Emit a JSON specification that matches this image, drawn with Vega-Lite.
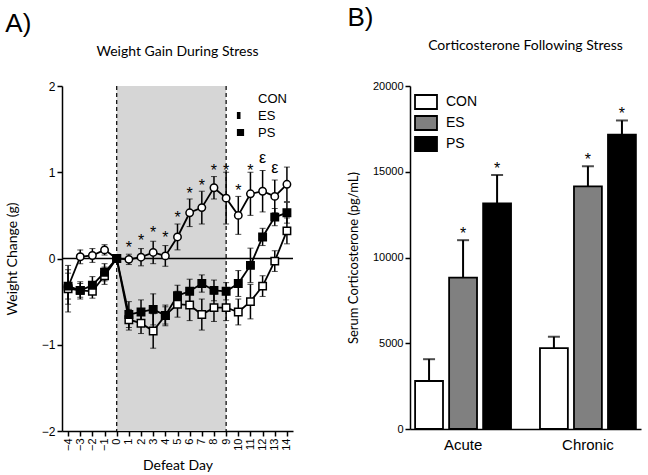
{
  "$schema": "https://vega.github.io/schema/vega-lite/v6.json",
  "background": "white",
  "padding": {"left": 5, "top": 5, "right": 5, "bottom": 5},
  "spacing": 53,
  "resolve": {"scale": {"fill": "independent", "shape": "independent"}, "legend": {"fill": "independent", "shape": "independent"}},
  "datasets": {
    "weight": [
      {"day": -4, "group": "CON", "mean": -0.33, "sem": 0.2},
      {"day": -3, "group": "CON", "mean": 0.02, "sem": 0.08},
      {"day": -2, "group": "CON", "mean": 0.035, "sem": 0.08},
      {"day": -1, "group": "CON", "mean": 0.1, "sem": 0.06},
      {"day": 0, "group": "CON", "mean": 0, "sem": 0},
      {"day": 1, "group": "CON", "mean": -0.01, "sem": 0.06},
      {"day": 2, "group": "CON", "mean": 0.015, "sem": 0.1},
      {"day": 3, "group": "CON", "mean": 0.07, "sem": 0.13},
      {"day": 4, "group": "CON", "mean": 0.03, "sem": 0.12},
      {"day": 5, "group": "CON", "mean": 0.25, "sem": 0.15},
      {"day": 6, "group": "CON", "mean": 0.53, "sem": 0.16},
      {"day": 7, "group": "CON", "mean": 0.59, "sem": 0.19},
      {"day": 8, "group": "CON", "mean": 0.82, "sem": 0.13},
      {"day": 9, "group": "CON", "mean": 0.7, "sem": 0.3},
      {"day": 10, "group": "CON", "mean": 0.5, "sem": 0.22},
      {"day": 11, "group": "CON", "mean": 0.75, "sem": 0.25},
      {"day": 12, "group": "CON", "mean": 0.78, "sem": 0.24},
      {"day": 13, "group": "CON", "mean": 0.72, "sem": 0.19},
      {"day": 14, "group": "CON", "mean": 0.86, "sem": 0.2},
      {"day": -4, "group": "ES", "mean": -0.35, "sem": 0.27},
      {"day": -3, "group": "ES", "mean": -0.37, "sem": 0.1},
      {"day": -2, "group": "ES", "mean": -0.38, "sem": 0.08},
      {"day": -1, "group": "ES", "mean": -0.2, "sem": 0.1},
      {"day": 0, "group": "ES", "mean": 0, "sem": 0},
      {"day": 1, "group": "ES", "mean": -0.71, "sem": 0.12},
      {"day": 2, "group": "ES", "mean": -0.75, "sem": 0.12},
      {"day": 3, "group": "ES", "mean": -0.84, "sem": 0.2},
      {"day": 4, "group": "ES", "mean": -0.66, "sem": 0.12},
      {"day": 5, "group": "ES", "mean": -0.53, "sem": 0.15},
      {"day": 6, "group": "ES", "mean": -0.54, "sem": 0.18},
      {"day": 7, "group": "ES", "mean": -0.65, "sem": 0.18},
      {"day": 8, "group": "ES", "mean": -0.57, "sem": 0.16},
      {"day": 9, "group": "ES", "mean": -0.57, "sem": 0.15},
      {"day": 10, "group": "ES", "mean": -0.62, "sem": 0.15},
      {"day": 11, "group": "ES", "mean": -0.5, "sem": 0.2},
      {"day": 12, "group": "ES", "mean": -0.32, "sem": 0.12},
      {"day": 13, "group": "ES", "mean": -0.03, "sem": 0.12},
      {"day": 14, "group": "ES", "mean": 0.32, "sem": 0.15},
      {"day": -4, "group": "PS", "mean": -0.32, "sem": 0.15},
      {"day": -3, "group": "PS", "mean": -0.37, "sem": 0.08},
      {"day": -2, "group": "PS", "mean": -0.31, "sem": 0.1},
      {"day": -1, "group": "PS", "mean": -0.16, "sem": 0.1},
      {"day": 0, "group": "PS", "mean": 0, "sem": 0},
      {"day": 1, "group": "PS", "mean": -0.65, "sem": 0.15},
      {"day": 2, "group": "PS", "mean": -0.62, "sem": 0.14},
      {"day": 3, "group": "PS", "mean": -0.59, "sem": 0.18},
      {"day": 4, "group": "PS", "mean": -0.66, "sem": 0.1},
      {"day": 5, "group": "PS", "mean": -0.43, "sem": 0.12},
      {"day": 6, "group": "PS", "mean": -0.38, "sem": 0.14},
      {"day": 7, "group": "PS", "mean": -0.29, "sem": 0.1},
      {"day": 8, "group": "PS", "mean": -0.37, "sem": 0.12},
      {"day": 9, "group": "PS", "mean": -0.38, "sem": 0.1},
      {"day": 10, "group": "PS", "mean": -0.29, "sem": 0.15},
      {"day": 11, "group": "PS", "mean": -0.08, "sem": 0.2},
      {"day": 12, "group": "PS", "mean": 0.25, "sem": 0.1},
      {"day": 13, "group": "PS", "mean": 0.48, "sem": 0.1},
      {"day": 14, "group": "PS", "mean": 0.53, "sem": 0.12}
    ],
    "marks": [
      {"day": 1, "y": 0.16, "label": "*"},
      {"day": 2, "y": 0.24, "label": "*"},
      {"day": 3, "y": 0.33, "label": "*"},
      {"day": 4, "y": 0.27, "label": "*"},
      {"day": 5, "y": 0.5, "label": "*"},
      {"day": 6, "y": 0.78, "label": "*"},
      {"day": 7, "y": 0.87, "label": "*"},
      {"day": 8, "y": 1.05, "label": "*"},
      {"day": 9, "y": 1.05, "label": "*"},
      {"day": 10, "y": 0.82, "label": "*"},
      {"day": 11, "y": 1.05, "label": "*"},
      {"day": 12, "y": 1.2, "label": "ε"},
      {"day": 13, "y": 1.08, "label": "ε"}
    ],
    "cort": [
      {"period": "Acute", "group": "CON", "mean": 2800, "top": 4070, "star": ""},
      {"period": "Acute", "group": "ES", "mean": 8830, "top": 11010, "star": "*"},
      {"period": "Acute", "group": "PS", "mean": 13160, "top": 14810, "star": "*"},
      {"period": "Chronic", "group": "CON", "mean": 4710, "top": 5380, "star": ""},
      {"period": "Chronic", "group": "ES", "mean": 14150, "top": 15320, "star": "*"},
      {"period": "Chronic", "group": "PS", "mean": 17170, "top": 17990, "star": "*"}
    ]
  },
  "hconcat": [
    {
      "title": {"text": "A)", "anchor": "start", "fontSize": 26, "fontWeight": "normal", "font": "Liberation Sans", "offset": 8},
      "vconcat": [
        {
          "width": 231,
          "height": 345,
          "title": {"text": "Weight Gain During Stress", "fontSize": 14, "fontWeight": "normal", "font": "Lato", "offset": 21},
          "layer": [
            {
              "data": {"values": [{"x0": 0, "x1": 9, "y0": -2, "y1": 2}]},
              "mark": {"type": "rect", "color": "#d6d6d6"},
              "encoding": {
                "x": {"field": "x0", "type": "quantitative"},
                "x2": {"field": "x1"},
                "y": {"field": "y0", "type": "quantitative"},
                "y2": {"field": "y1"}
              }
            },
            {
              "data": {"values": [{"x": 0}, {"x": 9}]},
              "mark": {"type": "rule", "color": "black", "strokeDash": [4, 3], "strokeWidth": 1.2},
              "encoding": {"x": {"field": "x", "type": "quantitative"}}
            },
            {
              "data": {"values": [{"y": 0}]},
              "mark": {"type": "rule", "color": "black", "strokeWidth": 1.5},
              "encoding": {"y": {"field": "y", "type": "quantitative"}}
            },
            {
              "data": {"name": "weight"},
              "mark": {"type": "errorbar", "ticks": {"size": 6, "color": "black", "strokeWidth": 1.5}, "rule": {"color": "black", "strokeWidth": 1.5}},
              "encoding": {
                "x": {"field": "day", "type": "quantitative"},
                "y": {"field": "mean", "type": "quantitative"},
                "yError": {"field": "sem"},
                "detail": {"field": "group"}
              }
            },
            {
              "data": {"name": "weight"},
              "mark": {"type": "line", "color": "black", "strokeWidth": 1.8},
              "encoding": {
                "x": {"field": "day", "type": "quantitative"},
                "y": {"field": "mean", "type": "quantitative"},
                "detail": {"field": "group"}
              }
            },
            {
              "data": {"name": "weight"},
              "mark": {"type": "point", "filled": false, "stroke": "black", "strokeWidth": 1.5, "opacity": 1, "size": 55},
              "encoding": {
                "x": {"field": "day", "type": "quantitative"},
                "y": {"field": "mean", "type": "quantitative"},
                "shape": {"field": "group", "type": "nominal", "scale": {"domain": ["CON", "ES", "PS"], "range": ["circle", "square", "square"]}, "legend": null},
                "fill": {"field": "group", "type": "nominal", "scale": {"domain": ["CON", "ES", "PS"], "range": ["white", "white", "black"]}, "legend": null}
              }
            },
            {
              "data": {"values": [{"day": -12, "mean": 0, "key": "CON"}, {"day": -12, "mean": 0, "key": "ES"}, {"day": -12, "mean": 0, "key": "PS"}]},
              "mark": {"type": "point", "filled": false, "stroke": "black", "strokeWidth": 1.5, "opacity": 1, "size": 64, "clip": true},
              "encoding": {
                "x": {"field": "day", "type": "quantitative"},
                "y": {"field": "mean", "type": "quantitative"},
                "shape": {"field": "key", "type": "nominal", "scale": {"domain": ["CON", "ES", "PS"], "range": [
                  "M-2.1,0H-1M1,0H2.1M-1,0A1,1 0 1,0 1,0A1,1 0 1,0 -1,0Z",
                  "M-2.1,0H-0.9M0.9,0H2.1M-0.9,-0.9H0V0.9H-0.9ZM0,-0.9H0.9V0.9H0H0.9V-0.9H0",
                  "M-2.1,0H-0.9M0.9,0H2.1M-0.9,-0.9H0.9V0.9H-0.9Z"
                ]}, "legend": {
                  "title": null, "orient": "top-right", "offset": 2, "labelFontSize": 13, "labelFont": "Liberation Sans", "symbolSize": 64, "symbolStrokeColor": "black", "symbolStrokeWidth": 1.5, "labelOffset": 11, "rowPadding": 2, "padding": 4,
                  "encode": {"symbols": {"update": {"stroke": {"value": "black"}, "strokeWidth": {"value": 1.5}, "strokeOpacity": {"value": 1}}}}
                }},
                "fill": {"field": "key", "type": "nominal", "scale": {"domain": ["CON", "ES", "PS"], "range": ["white", "black", "black"]}, "legend": null}
              }
            },
            {
              "data": {"name": "marks"},
              "mark": {"type": "text", "fontSize": 16, "font": "Liberation Sans", "baseline": "middle", "dy": 3},
              "encoding": {
                "x": {"field": "day", "type": "quantitative"},
                "y": {"field": "y", "type": "quantitative"},
                "text": {"field": "label"}
              }
            }
          ],
          "encoding": {
            "x": {"scale": {"domain": [-4.5, 14.5], "nice": false, "zero": false}, "axis": {"title": "Defeat Day", "values": [-4, -3, -2, -1, 0, 1, 2, 3, 4, 5, 6, 7, 8, 9, 10, 11, 12, 13, 14], "labelAngle": -90, "labelFontSize": 11, "titleFontSize": 14, "titleFont": "Lato", "titleFontWeight": "normal", "titlePadding": 8}},
            "y": {"scale": {"domain": [-2, 2], "nice": false}, "axis": {"title": "Weight Change (g)", "values": [-2, -1, 0, 1, 2], "labelFontSize": 12, "titleFontSize": 14, "titleFont": "Lato", "titleFontWeight": "normal", "titlePadding": 22}}
          },
          "resolve": {"scale": {"fill": "independent", "shape": "independent"}}
        }
      ]
    },
    {
      "title": {"text": "B)", "anchor": "start", "fontSize": 26, "fontWeight": "normal", "font": "Liberation Sans", "offset": 8},
      "vconcat": [
        {
          "width": 231,
          "height": 343,
          "title": {"text": "Corticosterone Following Stress", "fontSize": 14, "fontWeight": "normal", "font": "Lato", "offset": 27},
          "data": {"name": "cort"},
          "layer": [
            {
              "mark": {"type": "rule", "color": "black", "strokeWidth": 2},
              "encoding": {
                "y": {"field": "mean", "type": "quantitative"},
                "y2": {"field": "top"}
              }
            },
            {
              "mark": {"type": "tick", "color": "black", "thickness": 2, "size": 12, "orient": "horizontal"},
              "encoding": {
                "y": {"field": "top", "type": "quantitative"}
              }
            },
            {
              "mark": {"type": "bar", "stroke": "black", "strokeWidth": 1.8},
              "encoding": {
                "y": {"field": "mean", "type": "quantitative"},
                "fill": {"field": "group", "type": "nominal", "scale": {"domain": ["CON", "ES", "PS"], "range": ["white", "#808080", "black"]}, "legend": {
                  "title": null, "orient": "top-left", "offset": 6, "labelFontSize": 14, "labelFont": "Liberation Sans", "symbolType": "M-1.57,-1H1.57V1H-1.57Z", "symbolSize": 196, "symbolStrokeColor": "black", "symbolStrokeWidth": 1.8, "labelOffset": 12, "rowPadding": -1, "padding": 2
                }}
              }
            },
            {
              "mark": {"type": "text", "fontSize": 16, "font": "Liberation Sans", "baseline": "middle", "dy": -6},
              "encoding": {
                "y": {"field": "top", "type": "quantitative"},
                "text": {"field": "star"}
              }
            }
          ],
          "encoding": {
            "x": {"field": "period", "type": "nominal", "scale": {"paddingInner": 0.21, "paddingOuter": 0.03}, "axis": {"title": null, "labelAngle": 0, "labelFontSize": 15, "labelFont": "Liberation Sans", "ticks": false, "labelPadding": 8}},
            "xOffset": {"field": "group", "type": "nominal", "scale": {"domain": ["CON", "ES", "PS"], "paddingInner": 0.18, "paddingOuter": 0.04}},
            "y": {"scale": {"domain": [0, 20000], "nice": false}, "axis": {"title": "Serum Corticosterone (pg/mL)", "values": [0, 5000, 10000, 15000, 20000], "format": "d", "labelFontSize": 11, "titleFontSize": 13, "titleFont": "Lato", "titleFontWeight": "normal", "titlePadding": 12}}
          }
        }
      ]
    }
  ],
  "config": {
    "view": {"stroke": null},
    "font": "Liberation Sans",
    "axis": {"grid": false, "domainColor": "black", "domainWidth": 1.5, "tickColor": "black", "tickWidth": 1.5, "tickSize": 5, "labelColor": "black", "titleColor": "black", "labelFont": "Liberation Sans"},
    "legend": {"labelColor": "black"},
    "title": {"color": "black"}
  }
}
